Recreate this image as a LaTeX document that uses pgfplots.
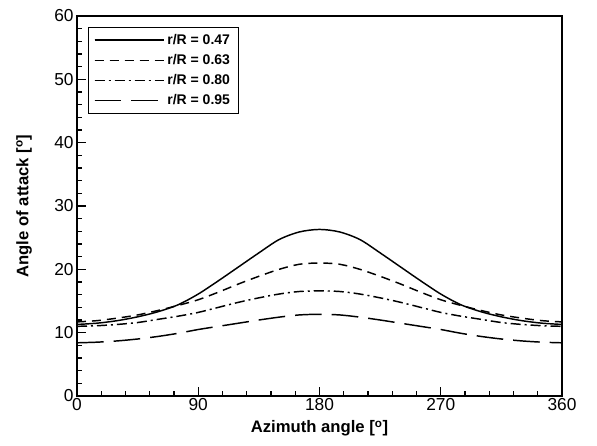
\documentclass[border=0pt]{standalone}
\usepackage{pgfplots}
\pgfplotsset{compat=1.18}
\usepackage{fontspec}
\setmainfont{Liberation Sans}

\begin{document}
\begin{tikzpicture}
  \begin{axis}[
    scale only axis,
    width=363.75pt, height=285pt,
    xmin=0, xmax=360, ymin=0, ymax=60,
    xtick={0,90,180,270,360},
    ytick={0,10,20,30,40,50,60},
    minor x tick num=4,
    minor y tick num=4,
    tick pos=left,
    tick align=inside,
    major tick length=7pt,
    minor tick length=3.5pt,
    every tick/.style={line width=0.9pt},
    axis line style={line width=1.5pt},
    /pgf/number format/assume math mode=true,
    tick label style={font=\fontsize{13}{14}\selectfont},
    xticklabel style={yshift=2pt},
    yticklabel style={xshift=1pt},
    xlabel={\textbf{Azimuth angle [\textsuperscript{o}]}},
    ylabel={\textbf{Angle of attack [\textsuperscript{o}]}},
    label style={font=\fontsize{12.5}{14}\selectfont},
    xlabel style={yshift=-1pt},
    ylabel style={yshift=10pt},
    legend style={at={(0.023,0.971)}, anchor=north west, draw=black, line width=0.6pt,
      font=\fontsize{10.5}{12}\bfseries, row sep=2pt, inner xsep=4pt, inner ysep=3pt},
    legend cell align=right,
    legend image code/.code={\draw[#1, line width=1.1pt] (0pt,0pt) -- (43.5pt,0pt);
      \path (0pt,0pt) -- (52pt,0pt);},
    every axis plot/.append style={line width=1.1pt, black, smooth},
  ]
  % r/R = 0.47
  \addplot[solid] coordinates {
    (0,11.3)(15,11.5)(30,11.9)(45,12.5)(60,13.3)(75,14.4)(90,16.1)(105,18.2)
    (120,20.4)(135,22.6)(150,24.7)(165,25.9)(180,26.3)
    (195,25.9)(210,24.7)(225,22.6)(240,20.4)(255,18.2)(270,16.1)(285,14.4)
    (300,13.3)(315,12.5)(330,11.9)(345,11.5)(360,11.3)};
  \addlegendentry{r/R = 0.47}
  % r/R = 0.63
  \addplot[dash pattern=on 6.75pt off 4.5pt] coordinates {
    (0,11.7)(15,11.9)(30,12.3)(45,12.8)(60,13.5)(75,14.3)(90,15.2)(105,16.4)
    (120,17.7)(135,18.9)(150,20.0)(165,20.8)(180,21.0)
    (195,20.8)(210,20.0)(225,18.9)(240,17.7)(255,16.4)(270,15.2)(285,14.3)
    (300,13.5)(315,12.8)(330,12.3)(345,11.9)(360,11.7)};
  \addlegendentry{r/R = 0.63}
  % r/R = 0.80
  \addplot[dash pattern=on 7.5pt off 3pt on 1.5pt off 3pt] coordinates {
    (0,11.0)(15,11.1)(30,11.3)(45,11.6)(60,12.1)(75,12.6)(90,13.2)(105,14.0)
    (120,14.8)(135,15.5)(150,16.1)(165,16.5)(180,16.6)
    (195,16.5)(210,16.1)(225,15.5)(240,14.8)(255,14.0)(270,13.2)(285,12.6)
    (300,12.1)(315,11.6)(330,11.3)(345,11.1)(360,11.0)};
  \addlegendentry{r/R = 0.80}
  % r/R = 0.95
  \addplot[dash pattern=on 20pt off 7.5pt] coordinates {
    (0,8.4)(15,8.5)(30,8.7)(45,9.0)(60,9.4)(75,9.9)(90,10.5)(105,11.0)
    (120,11.5)(135,12.0)(150,12.45)(165,12.8)(180,12.9)
    (195,12.8)(210,12.45)(225,12.0)(240,11.5)(255,11.0)(270,10.5)(285,9.9)
    (300,9.4)(315,9.0)(330,8.7)(345,8.5)(360,8.4)};
  \addlegendentry{r/R = 0.95}
  \end{axis}
  \pgfresetboundingbox
  \path ([shift={(-57.75pt,-36.75pt)}]current axis.south west)
    rectangle ([shift={(26.25pt,12pt)}]current axis.north east);
\end{tikzpicture}
\end{document}
